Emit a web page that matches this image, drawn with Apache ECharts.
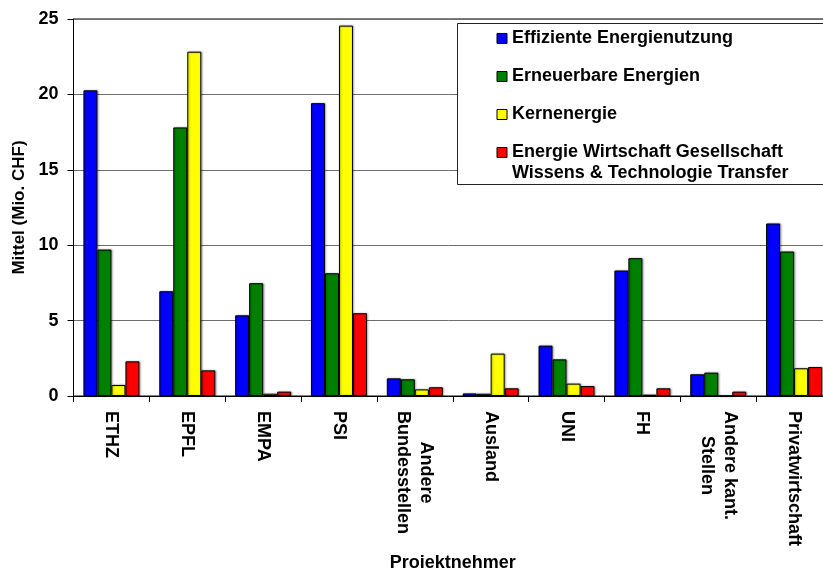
<!DOCTYPE html>
<html>
<head>
<meta charset="utf-8">
<script src="https://cdn.jsdelivr.net/npm/echarts@6/dist/echarts.min.js"></script>
<style>
html,body{margin:0;padding:0;background:#fff;}
#chart{width:823px;height:569px;}
</style>
</head>
<body>
<div id="chart"></div>
<script>
const categories = ['ETHZ','EPFL','EMPA','PSI','Andere\nBundesstellen','Ausland','UNI','FH','Andere kant.\nStellen','Privatwirtschaft'];
const seriesNames = ['Effiziente Energienutzung','Erneuerbare Energien','Kernenergie','Energie Wirtschaft Gesellschaft\nWissens & Technologie Transfer'];
const effizient = [20.27, 6.95, 5.35, 19.42, 1.17, 0.17, 3.34, 8.32, 1.44, 11.44];
const erneuerbar = [9.71, 17.81, 7.48, 8.14, 1.11, 0.15, 2.43, 9.14, 1.55, 9.58];
const kern = [0.73, 22.83, 0.15, 24.56, 0.44, 2.81, 0.82, 0.09, 0, 1.84];
const ewg = [2.30, 1.70, 0.29, 5.49, 0.58, 0.51, 0.66, 0.51, 0.29, 1.92];
const yTicks = [0, 5, 10, 15, 20, 25];
const colors = ['#0000ff','#008000','#ffff00','#ff0000'];

const FONT = 'Liberation Sans, Arial, sans-serif';
const chart = echarts.init(document.getElementById('chart'), null, {renderer:'canvas'});
const values = [effizient, erneuerbar, kern, ewg];
const txt = {fontFamily: FONT, fontSize: 18, fontWeight: 'bold', color: '#000'};

chart.setOption({
  animation: false,
  backgroundColor: '#fff',
  textStyle: {fontFamily: FONT},
  grid: {left: 73.5, right: -9, top: 19, bottom: 173, show: true, borderColor: '#000', borderWidth: 1,
         containLabel: false, outerBoundsMode: 'none'},
  legend: {
    orient: 'vertical',
    left: 457.5,
    top: 23.5,
    itemWidth: 10,
    itemHeight: 10,
    itemGap: 20,
    padding: [6, 80, 2, 39],
    borderColor: '#222',
    borderWidth: 1,
    backgroundColor: '#fff',
    icon: 'rect',
    selectedMode: false,
    itemStyle: {borderColor: '#000', borderWidth: 1},
    formatter: name => {
      const parts = name.split('\n');
      if (parts.length === 1) return '{a|' + name + '}';
      return '{a|' + parts[0] + '}\n{b|' + parts[1] + '}';
    },
    textStyle: Object.assign({}, txt, {
      rich: {
        a: Object.assign({}, txt, {lineHeight: 21}),
        b: Object.assign({}, txt, {lineHeight: 0, padding: [21, 0, 0, 0]})
      }
    })
  },
  xAxis: {
    type: 'category',
    data: categories,
    name: 'Proiektnehmer',
    nameLocation: 'middle',
    nameGap: 157,
    nameTextStyle: txt,
    axisLine: {lineStyle: {color: '#000', width: 1}},
    axisTick: {show: true, length: 6, alignWithLabel: false, lineStyle: {color: '#000'}},
    axisLabel: {
      interval: 0,
      rotate: -90,
      margin: 15,
      formatter: v => v.split('\n').map(s => '{c|' + s + '}').join('\n'),
      rich: {c: Object.assign({}, txt, {align: 'center', lineHeight: 23})}
    },
    splitLine: {show: false}
  },
  yAxis: {
    type: 'value',
    min: 0, max: 25, interval: 5,
    name: 'Mittel (Mio. CHF)',
    nameLocation: 'middle',
    nameGap: 46,
    nameTextStyle: Object.assign({}, txt, {fontSize: 17}),
    axisLine: {show: true, lineStyle: {color: '#000', width: 1}},
    axisTick: {show: true, length: 6, lineStyle: {color: '#000'}},
    axisLabel: Object.assign({}, txt, {margin: 15,
      formatter: v => yTicks.includes(v) ? String(v) : ''}),
    splitLine: {show: true, lineStyle: {color: '#6e6e6e', width: 1}}
  },
  series: seriesNames.map((n, i) => ({
    name: n,
    type: 'bar',
    data: values[i],
    barWidth: 14,
    barGap: '0%',
    itemStyle: {color: colors[i], borderColor: '#000', borderWidth: 1,
      shadowColor: 'rgba(0,0,0,0.35)', shadowBlur: 2, shadowOffsetX: 1, shadowOffsetY: 0},
    emphasis: {disabled: true}
  }))
});
</script>
</body>
</html>
